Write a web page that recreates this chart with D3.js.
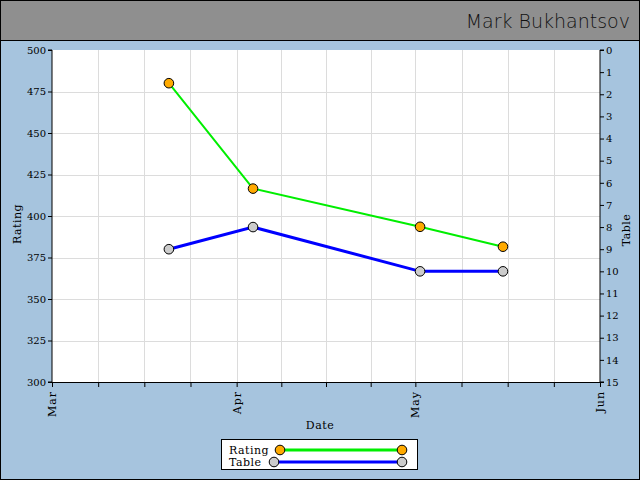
<!DOCTYPE html>
<html><head><meta charset="utf-8">
<script src="https://cdn.jsdelivr.net/npm/d3@7"></script>
<style>
html,body{margin:0;padding:0;background:#fff;}
svg{display:block;}
text{font-family:"DejaVu Serif","Liberation Serif",serif;}
</style></head>
<body>
<svg id="c" width="640" height="480"></svg>
<script>
// ---- data ----
const dates = ["2011-03-20T15:00","2011-04-03T18:00","2011-05-01T19:00","2011-05-15T17:00"];
const rating = [480, 416.5, 393.5, 381.5];
const table = [9, 8, 10, 10];
const monthLabels = ["Mar","Apr","May","Jun"];
const ratingTicks = [300,325,350,375,400,425,450,475,500];
const tableTicks = [0,1,2,3,4,5,6,7,8,9,10,11,12,13,14,15];
const title = "Mark Bukhantsov";
const seriesNames = ["Rating","Table"];

const W = 640, H = 480;
const m = {l:52, r:600, t:50, b:382};
const svg = d3.select("#c");
const parse = d3.isoParse;

// background
svg.append("rect").attr("x",0).attr("y",0).attr("width",W).attr("height",H).attr("fill","#a6c4de");
svg.append("rect").attr("x",0).attr("y",0).attr("width",W).attr("height",40).attr("fill","#8f8f8f");
svg.append("line").attr("x1",0).attr("x2",W).attr("y1",40.5).attr("y2",40.5).attr("stroke","#000");
svg.append("rect").attr("x",0.5).attr("y",0.5).attr("width",W-1).attr("height",H-1).attr("fill","none").attr("stroke","#000");
svg.append("text").attr("x",630).attr("y",28).attr("text-anchor","end")
  .style("font-family","'DejaVu Sans', sans-serif").style("font-size","19px").style("font-weight","300").attr("fill","#111")
  .text(title);

// scales
const x = d3.scaleTime().domain([new Date(2011,2,1), new Date(2011,5,1)]).range([m.l, m.r]);
const yL = d3.scaleLinear().domain([300,500]).range([m.b, m.t]);
const yR = d3.scaleLinear().domain([0,15]).range([m.t, m.b]);

// plot area
svg.append("rect").attr("x",m.l).attr("y",m.t).attr("width",m.r-m.l).attr("height",m.b-m.t).attr("fill","#fff");

// quarter-month ticks
const qTicks = [];
for (let mo=2; mo<5; mo++){
  const s = new Date(2011,mo,1), e = new Date(2011,mo+1,1);
  for (let q=0;q<4;q++) qTicks.push(new Date(+s + (e-s)*q/4));
}
qTicks.push(new Date(2011,5,1));

const grid = svg.append("g");
qTicks.slice(1,-1).forEach(d=>{
  grid.append("line").attr("x1",Math.round(x(d))+0.5).attr("x2",Math.round(x(d))+0.5).attr("y1",m.t).attr("y2",m.b).attr("stroke","#dcdcdc");
});
ratingTicks.slice(1,-1).forEach(v=>{
  grid.append("line").attr("x1",m.l).attr("x2",m.r).attr("y1",Math.round(yL(v))+0.5).attr("y2",Math.round(yL(v))+0.5).attr("stroke","#dcdcdc");
});

// axes
const axL = svg.append("g").attr("transform",`translate(${m.l},0)`)
  .call(d3.axisLeft(yL).tickValues(ratingTicks).tickSize(4).tickPadding(2).tickFormat(d3.format("d")));
const axR = svg.append("g").attr("transform",`translate(${m.r},0)`)
  .call(d3.axisRight(yR).tickValues(tableTicks).tickSize(4).tickPadding(2).tickFormat(d3.format("d")));
const axB = svg.append("g").attr("transform",`translate(0,${m.b})`)
  .call(d3.axisBottom(x).tickValues(qTicks).tickSize(5).tickFormat(()=>""));
[axL,axR,axB].forEach(a=>{
  a.selectAll(".domain").attr("stroke","#000");
  a.selectAll(".tick line").attr("stroke","#000");
  a.selectAll("text").style("font-family","'DejaVu Serif',serif").style("font-size","10px").attr("fill","#000");
});
axL.select(".domain").attr("d",`M-4,${m.t}H0V${m.b}H-4`);
axR.select(".domain").attr("d",`M4,${m.t}H0V${m.b}H4`);

// month labels rotated
const months = [new Date(2011,2,1),new Date(2011,3,1),new Date(2011,4,1),new Date(2011,5,1)];
svg.append("g").selectAll("text").data(months).join("text")
  .attr("transform",d=>`translate(${x(d)+4},${m.b+9}) rotate(-90)`)
  .attr("text-anchor","end")
  .style("font-size","11px").style("letter-spacing","1px")
  .text((d,i)=>monthLabels[i]);

// axis titles
svg.append("text").attr("transform","translate(21,224) rotate(-90)").attr("text-anchor","middle")
  .style("font-size","11px").style("letter-spacing","0.5px").text("Rating");
svg.append("text").attr("transform","translate(630,230) rotate(-90)").attr("text-anchor","middle")
  .style("font-size","11px").style("letter-spacing","0.5px").text("Table");
svg.append("text").attr("x",320).attr("y",429).attr("text-anchor","middle")
  .style("font-size","11px").style("letter-spacing","0.5px").text("Date");

// series
const rData = dates.map((d,i)=>({d:parse(d), v:rating[i]}));
const tData = dates.map((d,i)=>({d:parse(d), v:table[i]}));
svg.append("path").datum(tData).attr("fill","none").attr("stroke","#0000ff").attr("stroke-width",3)
  .attr("d", d3.line().x(p=>x(p.d)).y(p=>yR(p.v)));
svg.append("path").datum(rData).attr("fill","none").attr("stroke","#00ee00").attr("stroke-width",2)
  .attr("d", d3.line().x(p=>x(p.d)).y(p=>yL(p.v)));
svg.append("g").selectAll("circle").data(tData).join("circle")
  .attr("cx",p=>x(p.d)).attr("cy",p=>yR(p.v)).attr("r",4.8).attr("fill","#cccccc").attr("stroke","#000");
svg.append("g").selectAll("circle").data(rData).join("circle")
  .attr("cx",p=>x(p.d)).attr("cy",p=>yL(p.v)).attr("r",4.8).attr("fill","#ffaa00").attr("stroke","#000");

// legend
const lg = svg.append("g");
lg.append("rect").attr("x",221.5).attr("y",439.5).attr("width",196).attr("height",30).attr("fill","#fff").attr("stroke","#000");
lg.append("text").attr("x",229).attr("y",454).style("font-size","11px").style("letter-spacing","0.5px").text(seriesNames[0]);
lg.append("text").attr("x",229).attr("y",466).style("font-size","11px").style("letter-spacing","0.5px").text(seriesNames[1]);
lg.append("line").attr("x1",280).attr("x2",402).attr("y1",450).attr("y2",450).attr("stroke","#00ee00").attr("stroke-width",3);
lg.append("line").attr("x1",274).attr("x2",402).attr("y1",462).attr("y2",462).attr("stroke","#0000ff").attr("stroke-width",3);
[[280,450,"#ffaa00"],[402,450,"#ffaa00"],[274,462,"#cccccc"],[402,462,"#cccccc"]].forEach(c=>{
  lg.append("circle").attr("cx",c[0]).attr("cy",c[1]).attr("r",4.8).attr("fill",c[2]).attr("stroke","#000");
});
</script>
</body></html>
